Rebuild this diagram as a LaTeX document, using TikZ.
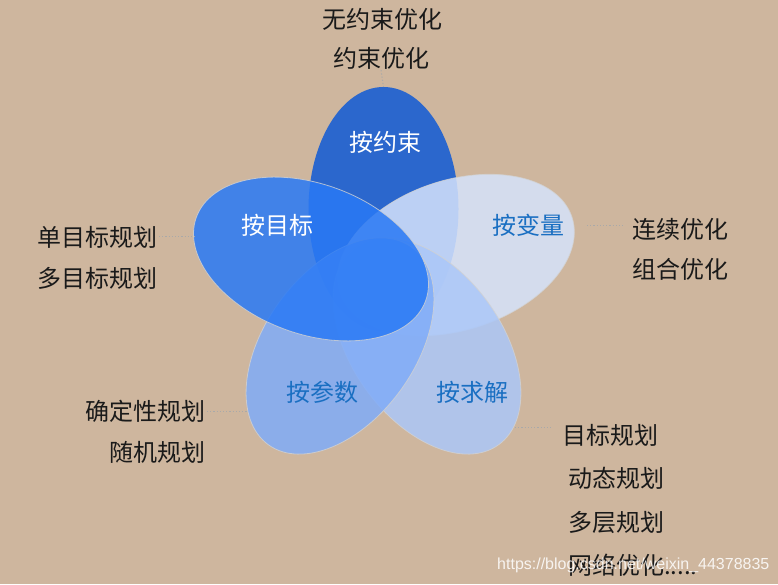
\documentclass[tikz,border=0pt]{standalone}
\usepackage{fontspec}
\setmainfont{Liberation Sans}
\newfontfamily\cjk{Noto Sans CJK SC}
\usetikzlibrary{shapes.geometric}
\definecolor{bg}{HTML}{CEB69E}
\definecolor{cTop}{HTML}{2B67CD}
\definecolor{cRight}{HTML}{D6E3FC}
\definecolor{cBR}{HTML}{ABC7F8}
\definecolor{cBL}{HTML}{80ACF8}
\definecolor{cLeft}{HTML}{2979F5}
\definecolor{edgegray}{HTML}{D2D2D2}
\definecolor{cTxt}{HTML}{1A6FC2}
\definecolor{dark}{HTML}{1A1A1A}
\definecolor{dotgray}{HTML}{A9A9A9}
\begin{document}
\begin{tikzpicture}[x=1pt,y=1pt,
  petal/.style={ellipse, inner sep=0pt, outer sep=0pt,
    minimum width=244pt, minimum height=150pt,
    draw=edgegray, draw opacity=0.8, line width=0.8pt, fill opacity=0.85},
  plab/.style={font=\cjk\fontsize{24}{28}\selectfont, inner sep=1pt},
  olab/.style={font=\cjk\fontsize{24}{28}\selectfont, text=dark, inner sep=1pt},
  dotl/.style={draw=dotgray, line width=1pt, dash pattern=on 1.2pt off 2pt}]
\fill[bg] (0,0) rectangle (778,584);
\useasboundingbox (0,0) rectangle (778,584);
% petals
\node[petal, fill=cTop, draw=none, fill opacity=1, rotate=90] (pTop) at (383.5,375) {};
\node[petal, fill=cRight, rotate=18] (pRight) at (456,329) {};
\node[petal, fill=cBR, rotate=-54] (pBR) at (427,238) {};
\node[petal, fill=cBL, rotate=54] (pBL) at (340,238) {};
\node[petal, fill=cLeft, rotate=-20] (pLeft) at (311,325) {};
% petal labels
\node[plab, text=white] (lTop) at (385,442) {按约束};
\node[plab, text=white] (lLeft) at (277,359) {按目标};
\node[plab, text=cTxt] (lRight) at (528,359) {按变量};
\node[plab, text=cTxt] (lBL) at (322,192) {按参数};
\node[plab, text=cTxt] (lBR) at (472,192) {按求解};
% outer labels
\node[olab] (t1) at (382,565) {无约束优化};
\node[olab] (t2) at (381,526) {约束优化};
\node[olab, anchor=east] (t3) at (159,347) {单目标规划};
\node[olab, anchor=east] (t4) at (159,306) {多目标规划};
\node[olab, anchor=west] (t5) at (631,355) {连续优化};
\node[olab, anchor=west] (t6) at (631,315) {组合优化};
\node[olab, anchor=east] (t7) at (207,173) {确定性规划};
\node[olab, anchor=east] (t8) at (207,132) {随机规划};
\node[olab, anchor=west] (t9) at (561,149) {目标规划};
\node[olab, anchor=west] (t10) at (567,106) {动态规划};
\node[olab, anchor=west] (t11) at (567,62) {多层规划};
\node[olab, anchor=west] (t12) at (567,19) {网络优化.....};
% connectors
\coordinate (eTop) at (383.5,497);
\coordinate (eL) at (196,347);
\coordinate (eR) at (587,358);
\coordinate (eBL) at (247,173);
\coordinate (eBR) at (515,157);
\draw[dotl] (t2.south) -- (eTop);
\draw[dotl] (t3.east) -- (eL);
\draw[dotl, shorten >=6pt] (eR) -- (eR -| t5.west);
\draw[dotl] (t7.east) -- (eBL);
\draw[dotl, shorten >=8pt] (eBR) -- (eBR -| t9.west);
% watermark
\node[font=\fontsize{16}{19}\selectfont, text=white, text opacity=0.85, anchor=west, inner sep=0pt] (wm) at (497,19) {https://blog.csdn.net/weixin\_44378835};
\end{tikzpicture}
\end{document}
